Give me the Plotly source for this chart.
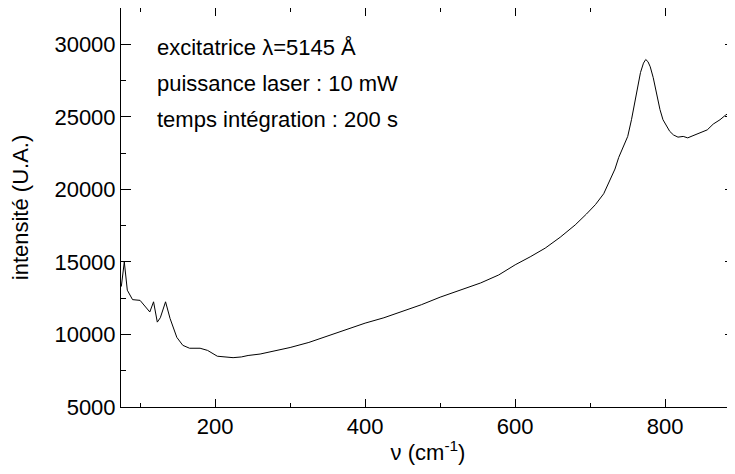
import plotly.graph_objects as go

# raman shift (cm-1) and intensity
shift = [75, 79, 83, 90, 100, 106, 113, 118, 123, 127, 134, 140, 149, 157, 166,
         180, 190, 203, 214, 224, 235, 244, 260, 280, 300, 325, 353, 375, 400,
         425, 447, 475, 500, 528, 554, 578, 600, 620, 640, 660, 680, 695, 707,
         718, 727, 733, 738, 744, 750, 755, 760, 764, 767, 771, 774, 777, 780,
         784, 787, 790, 793, 797, 802, 806, 811, 817, 824, 830, 837, 845, 856,
         864, 873, 880, 887, 891]
intensity = [13300, 15000, 13050, 12400, 12350, 12000, 11550, 12250, 10850, 11150,
             12250, 11100, 9800, 9250, 9050, 9050, 8900, 8500, 8450, 8400, 8450,
             8550, 8650, 8850, 9100, 9450, 9950, 10350, 10780, 11150, 11550,
             12050, 12570, 13050, 13550, 14100, 14800, 15350, 15950, 16700,
             17550, 18300, 18950, 19700, 20650, 21400, 22200, 22900, 23650,
             24800, 26050, 27200, 28050, 28700, 28950, 28800, 28450, 27700,
             26900, 26200, 25500, 24800, 24300, 24000, 23750, 23600, 23650,
             23550, 23700, 23850, 24100, 24500, 24800, 25100, 25350, 25850]

notes = ['excitatrice λ=5145 Å', 'puissance laser : 10 mW',
         'temps intégration : 200 s']
note_y = [29770, 27290, 24800]

FONT = 'Liberation Sans, Arial, sans-serif'

fig = go.Figure()
fig.add_trace(go.Scatter(x=shift, y=intensity, mode='lines',
                         line=dict(color='black', width=1), showlegend=False))

for txt, yv in zip(notes, note_y):
    fig.add_annotation(x=0.055, xref='paper', y=yv, yref='y', text=txt,
                       showarrow=False, xanchor='left', yanchor='middle',
                       font=dict(family=FONT, size=22, color='black'))

axis_common = dict(showline=True, linecolor='black', linewidth=1, mirror='ticks',
                   ticks='inside', tickcolor='black', showgrid=False, zeroline=False,
                   tickformat='d',
                   tickfont=dict(family=FONT, size=22, color='black'))

fig.update_xaxes(range=[74.6, 893], dtick=200, tick0=0, ticklen=8,
                 minor=dict(dtick=100, ticks='inside', ticklen=4, tickcolor='black'),
                 title=dict(text='ν (cm<sup>-1</sup>)', standoff=6,
                            font=dict(family=FONT, size=22, color='black')),
                 **axis_common)
fig.update_yaxes(range=[5000, 32500], dtick=5000, tick0=0, ticklen=10,
                 minor=dict(dtick=2500, ticks='inside', ticklen=5, tickcolor='black'),
                 title=dict(text='intensité (U.A.)', standoff=24,
                            font=dict(family=FONT, size=22, color='black')),
                 **axis_common)

fig.update_layout(width=727, height=458, margin=dict(l=113, r=0, t=0, b=59),
                  plot_bgcolor='white', paper_bgcolor='white',
                  font=dict(family=FONT, color='black'))

fig.write_html('out.html')
